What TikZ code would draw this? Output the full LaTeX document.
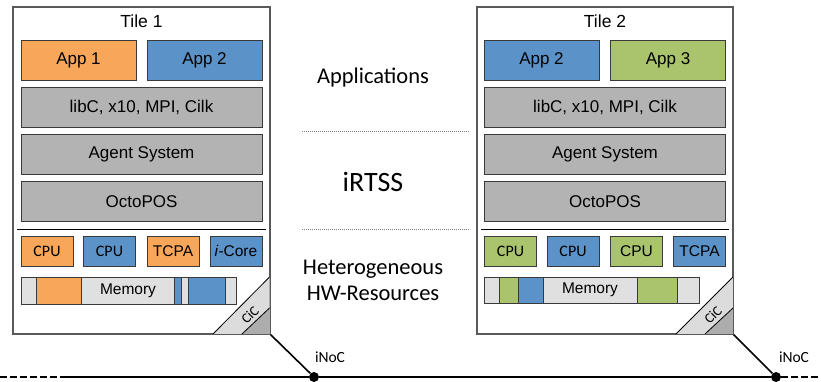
\documentclass[tikz,border=0pt]{standalone}
\usepackage{fontspec}
\setmainfont{Liberation Sans}
\newfontfamily\arialfont{Liberation Sans}
\newfontfamily\carlito{Carlito}
\definecolor{apporange}{HTML}{F8A65A}
\definecolor{appblue}{HTML}{5B93C8}
\definecolor{appgreen}{HTML}{A9C46C}
\definecolor{layergray}{HTML}{B3B3B3}
\definecolor{memgray}{HTML}{E0E0E0}
\definecolor{ciclight}{HTML}{DCDCDC}
\definecolor{cicdark}{HTML}{ADADAD}
\definecolor{framegray}{HTML}{595959}
\definecolor{boxline}{HTML}{3A3A3A}
\tikzset{
  tile/.style={draw=framegray, line width=1.3pt, fill=white, inner sep=0pt},
  layer/.style={draw=boxline, line width=0.9pt, inner sep=0pt, font=\arialfont\fontsize{17}{19}\selectfont},
  appbox/.style={layer, minimum width=115pt, minimum height=40pt},
  sysbox/.style={layer, fill=layergray, minimum width=241pt, minimum height=40pt},
  pebox/.style={layer, minimum width=52pt, minimum height=30pt},
  pesmall/.style={pebox, font=\carlito\fontsize{16}{18}\selectfont},
  pelarge/.style={pebox, font=\arialfont\fontsize{15.5}{17}\selectfont},
  memseg/.style={draw=boxline, line width=0.7pt},
  memlabel/.style={font=\arialfont\fontsize{15.5}{17}\selectfont},
  titlelabel/.style={font=\arialfont\fontsize{17.5}{19}\selectfont},
  sidelabel/.style={font=\carlito\fontsize{22.5}{27}\selectfont, align=center},
  sepline/.style={draw=black, line width=0.8pt},
  dotline/.style={draw=gray, line width=0.6pt, dash pattern=on 0.8pt off 1.2pt},
  bus/.style={draw=black, line width=1.8pt},
  busdash/.style={bus, dash pattern=on 7pt off 3pt},
  link/.style={draw=black, line width=1.6pt},
  router/.style={circle, fill=black, inner sep=0pt, minimum size=10pt},
  noclabel/.style={font=\carlito\fontsize{15.5}{17}\selectfont},
  ciclabel/.style={font=\carlito\fontsize{14}{15}\selectfont, rotate=45},
}
\begin{document}
\begin{tikzpicture}[x=1pt, y=-1pt]
\useasboundingbox (0,0) rectangle (821,381);

% ---------------- Tile 1 ----------------
\node[tile, minimum width=257pt, minimum height=327pt] (t1) at (141.5,170.5) {};
\node[titlelabel] (t1title) at (141.5,21) {Tile 1};
\node[appbox, fill=apporange] (t1app1) at (78.5,60) {App 1};
\node[appbox, fill=appblue] (t1app2) at (204.5,60) {App 2};
\node[sysbox] (t1lib) at (141.5,107) {libC, x10, MPI, Cilk};
\node[sysbox] (t1agent) at (141.5,154) {Agent System};
\node[sysbox] (t1os) at (141.5,201.5) {OctoPOS};
\coordinate (t1sepl) at (17,229);
\coordinate (t1sepr) at (266,229);
\draw[sepline] (t1sepl) -- (t1sepr);
\node[pesmall, fill=apporange] (t1pe1) at (47,251) {CPU};
\node[pesmall, fill=appblue] (t1pe2) at (109.5,251) {CPU};
\node[pelarge, fill=apporange] (t1pe3) at (173,251) {TCPA};
\node[pelarge, fill=appblue] (t1pe4) at (236,251) {\textit{i}-Core};
% memory bar with allocated regions
\draw[memseg, fill=memgray] (21,277) rectangle (236,304);
\draw[memseg, fill=apporange] (36,277) rectangle (81,304);
\draw[memseg, fill=appblue] (174,277) rectangle (181,304);
\draw[memseg, fill=appblue] (188,277) rectangle (225,304);
\node[memlabel] (t1mem) at (128,291) {Memory};
% CiC corner
\fill[ciclight] (213,334) -- (269.5,277) -- (269.5,334) -- cycle;
\draw[black, line width=0.8pt] (213,334) -- (269.5,277);
\fill[cicdark] (242,334) -- (269.5,308) -- (269.5,334) -- cycle;
\draw[black, line width=0.8pt] (242,334) -- (269.5,308);
\draw[framegray, line width=1.3pt] (t1.north east) -- (t1.south east) -- (t1.south west);
\node[ciclabel] (t1cic) at (250,315) {CiC};

% ---------------- Tile 2 ----------------
\node[tile, minimum width=256pt, minimum height=327pt] (t2) at (605,170.5) {};
\node[titlelabel] (t2title) at (605,21) {Tile 2};
\node[appbox, fill=appblue] (t2app2) at (541.5,60) {App 2};
\node[appbox, fill=appgreen] (t2app3) at (668,60) {App 3};
\node[sysbox] (t2lib) at (605,107) {libC, x10, MPI, Cilk};
\node[sysbox] (t2agent) at (605,154) {Agent System};
\node[sysbox] (t2os) at (605,201.5) {OctoPOS};
\coordinate (t2sepl) at (481,229);
\coordinate (t2sepr) at (729,229);
\draw[sepline] (t2sepl) -- (t2sepr);
\node[pesmall, fill=appgreen] (t2pe1) at (510.5,251) {CPU};
\node[pesmall, fill=appblue] (t2pe2) at (573,251) {CPU};
\node[pelarge, fill=appgreen] (t2pe3) at (636.5,251) {CPU};
\node[pelarge, fill=appblue] (t2pe4) at (699.5,251) {TCPA};
\draw[memseg, fill=memgray] (484,277) rectangle (699,303);
\draw[memseg, fill=appgreen] (499,277) rectangle (518,303);
\draw[memseg, fill=appblue] (518,277) rectangle (543,303);
\draw[memseg, fill=appgreen] (637,277) rectangle (677,303);
\node[memlabel] (t2mem) at (590,290) {Memory};
\fill[ciclight] (676,334) -- (733,277) -- (733,334) -- cycle;
\draw[black, line width=0.8pt] (676,334) -- (733,277);
\fill[cicdark] (705,334) -- (733,308) -- (733,334) -- cycle;
\draw[black, line width=0.8pt] (705,334) -- (733,308);
\draw[framegray, line width=1.3pt] (t2.north east) -- (t2.south east) -- (t2.south west);
\node[ciclabel] (t2cic) at (713,315) {CiC};

% ---------------- Layer legend ----------------
\node[sidelabel] (lapps) at (373,77) {Applications};
\node[font=\carlito\fontsize{28}{32}\selectfont] (lrtss) at (373,182) {iRTSS};
\node[sidelabel] (lhw) at (373,280.5) {Heterogeneous\\[-1.5pt]HW-Resources};
\coordinate (dl1a) at (302,131);
\coordinate (dl1b) at (470,131);
\coordinate (dl2a) at (302,229);
\coordinate (dl2b) at (470,229);
\draw[dotline] (dl1a) -- (dl1b);
\draw[dotline] (dl2a) -- (dl2b);

% ---------------- Network on chip ----------------
\node[router] (r1) at (314,377) {};
\node[router] (r2) at (776,377) {};
\coordinate (busl) at (0,377);
\coordinate (busm) at (60,377);
\coordinate (busr) at (821,377);
\draw[busdash] (busl) -- (busm);
\draw[bus] (busm) -- (r1) -- (r2);
\draw[busdash] (r2) -- (busr);
\draw[link] (t1.south east) -- (r1);
\draw[link] (t2.south east) -- (r2);
\node[noclabel] (noc1) at (330,357) {iNoC};
\node[noclabel] (noc2) at (794,357) {iNoC};
\end{tikzpicture}
\end{document}
